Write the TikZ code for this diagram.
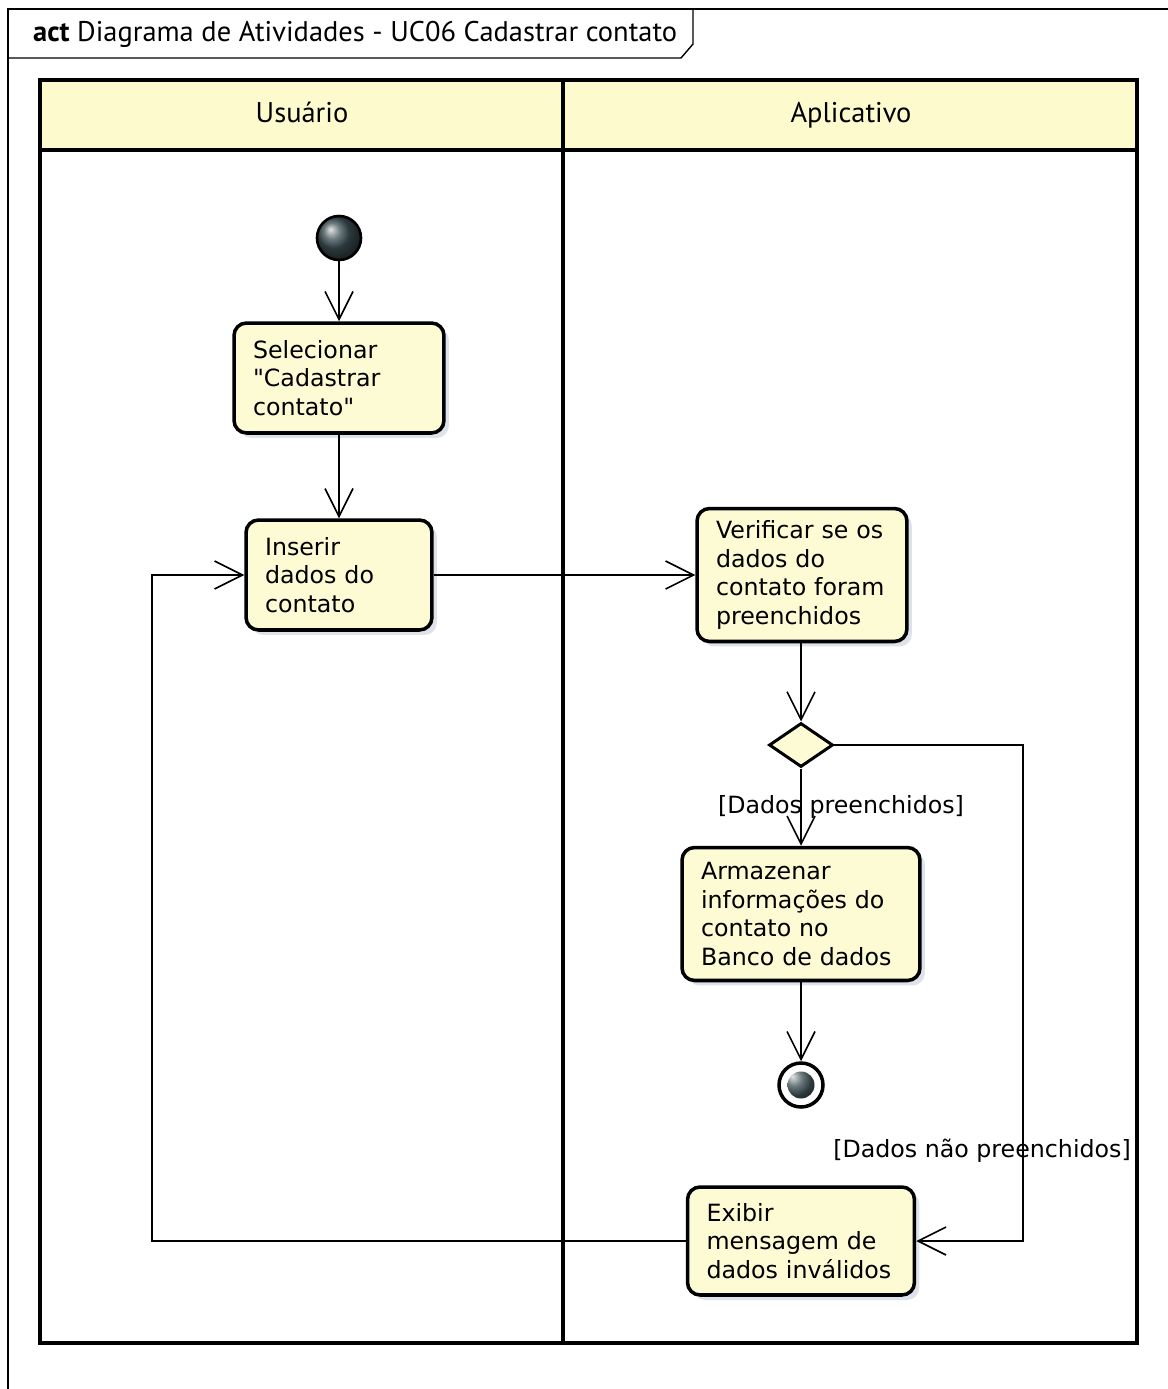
\documentclass[tikz,border=0pt]{standalone}
\usepackage{fontspec}
\setmainfont{DejaVu Sans}
\newfontfamily\cabfont{PT Sans}
\usepackage{xcolor}
\usepackage{tikz}
\usetikzlibrary{arrows.meta,shapes.geometric,shadows}
\definecolor{umlfundo}{RGB}{253,251,212}
\definecolor{umlcab}{RGB}{253,250,206}
\definecolor{sombra}{RGB}{222,226,234}
\definecolor{bola}{RGB}{62,80,84}
\tikzset{
  acao/.style={draw,line width=2pt,rounded corners=0.25cm,fill=umlfundo,align=left,
    text width=#1,inner xsep=0.38cm,inner ysep=0.1cm,font=\fontsize{13.5}{16.3}\selectfont,
    drop shadow={fill=sombra,opacity=1,shadow xshift=0.1cm,shadow yshift=-0.1cm}},
  fluxo/.style={line width=0.9pt,-{Straight Barb[length=0.56cm,width=0.56cm]}},
  guarda/.style={font=\fontsize{13.5}{16.3}\selectfont},
  raia/.style={line width=2.4pt},
  cab/.style={font=\cabfont\fontsize{16.2}{19}\selectfont},
}
\begin{document}
\begin{tikzpicture}[x=0.02cm,y=-0.02cm]
\useasboundingbox (0,0) rectangle (1168,1389);
%frame
\draw[line width=0.8pt] (8,1389)--(8,9)--(1168,9);
\draw[line width=0.8pt] (8,58)--(681,58)--(693,44)--(693,9);
\node[cab,anchor=base west] (titulo) at (27,42) {\textbf{act} Diagrama de Atividades - UC06 Cadastrar contato};
%raias
\fill[umlcab] (40,80) rectangle (1137,150);
\draw[raia] (40,80) rectangle (1137,1343);
\draw[raia] (40,150)--(1137,150);
\draw[raia] (563,80)--(563,1343);
\node[cab,anchor=base] (usuario) at (302,123) {Usuário};
\node[cab,anchor=base] (aplicativo) at (851,123) {Aplicativo};
%nos
\node[circle,draw,line width=1.5pt,ball color=bola,minimum size=0.88cm,inner sep=0pt] (inicio) at (339,238) {};
\node[acao=3.44cm,minimum height=2.2cm] (selecionar) at (339,378) {Selecionar\\\textquotedbl Cadastrar\\contato\textquotedbl};
\node[acao=2.96cm,minimum height=2.2cm] (inserir) at (339,575) {Inserir\\dados do\\contato};
\node[acao=3.44cm,minimum height=2.66cm] (verificar) at (802,575) {Verificar se os\\dados do\\contato foram\\preenchidos};
\node[diamond,draw,line width=1.7pt,fill=umlfundo,minimum width=1.28cm,minimum height=0.88cm,inner sep=0pt] (decisao) at (801,745) {};
\node[acao=4cm,minimum height=2.66cm] (armazenar) at (801,914) {Armazenar\\informações do\\contato no\\Banco de dados};
\node[circle,draw,line width=2pt,fill=white,minimum size=0.88cm,inner sep=0pt,
  path picture={\shade[ball color=bola] (path picture bounding box.center) circle (0.27cm);}] (fim) at (801,1085) {};
\node[acao=3.78cm,minimum height=2.16cm] (exibir) at (801,1241) {Exibir\\mensagem de\\dados inválidos};
\coordinate (desvio) at (1023,1241);
\coordinate (retorno) at (152,1241);
%fluxos
\draw[fluxo] (inicio)--(selecionar);
\draw[fluxo] (selecionar)--(inserir);
\draw[fluxo] (inserir)--(verificar);
\draw[fluxo] (verificar.south-|decisao)--(decisao);
\draw[fluxo] (decisao)--(armazenar) node[guarda,midway,xshift=0.8cm] {[Dados preenchidos]};
\draw[fluxo] (armazenar)--(fim);
\draw[fluxo] (decisao.east)-|(desvio)--(exibir.east);
\node[guarda] (naopreenchidos) at (982,1151) {[Dados não preenchidos]};
\draw[fluxo] (exibir.west)--(retorno)|-(inserir.west);
\end{tikzpicture}
\end{document}
